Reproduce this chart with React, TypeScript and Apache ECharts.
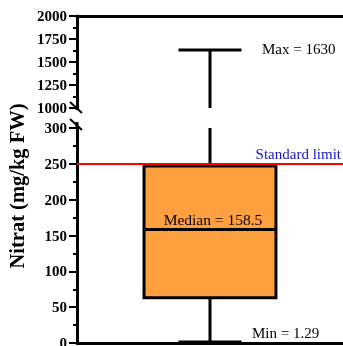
import React, { useEffect, useRef } from 'react';
import * as echarts from 'echarts';

const categories = ['Nitrat'];
const minValues = [1.29];
const q1Values = [63];
const medianValues = [158.5];
const q3Values = [247];
const maxValues = [1630];
const standardLimit = 250;
const upperRange = [1000, 2000];
const lowerRange = [0, 300];
const upperInterval = 250;
const lowerInterval = 50;
const yTitle = 'Nitrat (mg/kg FW)';
const limitLabel = 'Standard limit';

const FONT = '"Liberation Serif", "Times New Roman", serif';
const BOX_FILL = '#FFA040';

function makeRender() {
  return (params: any, api: any) => {
    const cs = params.coordSys;
    const top = cs.y;
    const bottom = cs.y + cs.height;
    const clamp = (y: number) => Math.max(top, Math.min(bottom, y));
    const inside = (y: number) => y >= top - 1.5 && y <= bottom + 1.5;
    const cat = api.value(0);
    const vMin = api.value(1);
    const vQ1 = api.value(2);
    const vMed = api.value(3);
    const vQ3 = api.value(4);
    const vMax = api.value(5);
    const [cx, yMin] = api.coord([cat, vMin]);
    const yQ1 = api.coord([cat, vQ1])[1];
    const yMed = api.coord([cat, vMed])[1];
    const yQ3 = api.coord([cat, vQ3])[1];
    const yMax = api.coord([cat, vMax])[1];
    const band = api.size([1, 0])[0];
    const boxW = band * 0.496;
    const capW = band * 0.237;
    const stroke = { stroke: '#000', lineWidth: 3 };
    const children: any[] = [];
    const wTop = clamp(yMax), wBot = clamp(yQ3);
    if (wBot - wTop > 0.5) {
      children.push({ type: 'line', shape: { x1: cx, y1: wTop, x2: cx, y2: wBot }, style: stroke });
    }
    const lTop = clamp(yQ1), lBot = clamp(yMin);
    if (lBot - lTop > 0.5) {
      children.push({ type: 'line', shape: { x1: cx, y1: lTop, x2: cx, y2: lBot }, style: stroke });
    }
    const bTop = clamp(yQ3), bBot = clamp(yQ1);
    if (bBot - bTop > 0.5) {
      children.push({
        type: 'rect',
        shape: { x: cx - boxW / 2, y: bTop, width: boxW, height: bBot - bTop },
        style: { fill: BOX_FILL, stroke: '#000', lineWidth: 3 },
      });
    }
    if (inside(yMed)) {
      children.push({ type: 'line', shape: { x1: cx - boxW / 2, y1: yMed, x2: cx + boxW / 2, y2: yMed }, style: stroke });
      children.push({
        type: 'text', x: cx + 3, y: yMed - 2,
        style: { text: `Median = ${vMed}`, fill: '#000', fontFamily: FONT, fontSize: 15.5, align: 'center', verticalAlign: 'bottom' },
      });
    }
    if (inside(yMax)) {
      children.push({ type: 'line', shape: { x1: cx - capW / 2, y1: yMax, x2: cx + capW / 2, y2: yMax }, style: stroke });
      children.push({
        type: 'text', x: cx + 52, y: yMax - 1,
        style: { text: `Max = ${vMax}`, fill: '#000', fontFamily: FONT, fontSize: 15, align: 'left', verticalAlign: 'middle' },
      });
    }
    if (inside(yMin)) {
      children.push({ type: 'line', shape: { x1: cx - capW / 2, y1: yMin, x2: cx + capW / 2, y2: yMin }, style: stroke });
      children.push({
        type: 'text', x: cx + 42, y: yMin - 9,
        style: { text: `Min = ${vMin}`, fill: '#000', fontFamily: FONT, fontSize: 15, align: 'left', verticalAlign: 'middle' },
      });
    }
    return { type: 'group', children };
  };
}

const boxData = categories.map((_, i) => [i, minValues[i], q1Values[i], medianValues[i], q3Values[i], maxValues[i]]);

function yAxisFor(gridIndex: number, range: number[], interval: number) {
  return {
    type: 'value',
    gridIndex,
    min: range[0],
    max: range[1],
    interval,
    axisLine: { show: true, lineStyle: { color: '#000', width: 3 } },
    axisTick: { show: true, length: 8, inside: false, lineStyle: { color: '#000', width: 2 } },
    minorTick: { show: true, splitNumber: 2, length: 4, lineStyle: { color: '#000', width: 2 } },
    splitLine: { show: false },
    axisLabel: {
      fontFamily: FONT, fontWeight: 'bold', fontSize: 15, color: '#000', margin: 10,
      formatter: (v: number) => String(v),
    },
  };
}

export default function App() {
  const ref = useRef<HTMLDivElement>(null);
  useEffect(() => {
    if (!ref.current) return;
    const chart = echarts.init(ref.current, undefined, { renderer: 'svg' });
    chart.setOption({
      animation: false,
      grid: [
        { left: 77, right: 0, top: 16, height: 92, outerBoundsMode: 'none', containLabel: false },
        { left: 77, right: 0, top: 128, height: 215, outerBoundsMode: 'none', containLabel: false },
      ],
      xAxis: [
        {
          type: 'category', gridIndex: 0, data: categories, position: 'top',
          axisLine: { show: true, onZero: false, lineStyle: { color: '#000', width: 3 } },
          axisTick: { show: false }, axisLabel: { show: false },
        },
        {
          type: 'category', gridIndex: 1, data: categories, position: 'bottom',
          axisLine: { show: true, onZero: false, lineStyle: { color: '#000', width: 3 } },
          axisTick: { show: false }, axisLabel: { show: false },
        },
      ],
      yAxis: [
        yAxisFor(0, upperRange, upperInterval),
        yAxisFor(1, lowerRange, lowerInterval),
      ],
      series: [
        {
          type: 'custom', xAxisIndex: 0, yAxisIndex: 0,
          data: boxData, encode: { x: 0, y: [1, 2, 3, 4, 5] },
          renderItem: makeRender(),
        },
        {
          type: 'custom', xAxisIndex: 1, yAxisIndex: 1,
          data: boxData, encode: { x: 0, y: [1, 2, 3, 4, 5] },
          renderItem: makeRender(),
          z: 3,
        },
        {
          type: 'line', xAxisIndex: 1, yAxisIndex: 1, data: [],
          z: 4,
          markLine: {
            silent: true, symbol: ['none', 'none'],
            lineStyle: { color: '#FF0000', width: 2, type: 'solid' },
            label: {
              show: true, position: 'insideEndTop', formatter: limitLabel,
              color: '#1515D0', fontFamily: FONT, fontSize: 15, distance: [2, 2],
            },
            data: [{ yAxis: standardLimit }],
          },
        },
      ],
      graphic: [
        { type: 'line', shape: { x1: 77, y1: 107, x2: 77, y2: 110 }, style: { stroke: '#000', lineWidth: 3 } },
        { type: 'line', shape: { x1: 77, y1: 122, x2: 77, y2: 129 }, style: { stroke: '#000', lineWidth: 3 } },
        { type: 'line', shape: { x1: 70, y1: 102, x2: 82, y2: 113 }, style: { stroke: '#000', lineWidth: 2 } },
        { type: 'line', shape: { x1: 70, y1: 119, x2: 82, y2: 130 }, style: { stroke: '#000', lineWidth: 2 } },
        {
          type: 'text', x: 17, y: 186, rotation: Math.PI / 2,
          style: { text: yTitle, fill: '#000', fontFamily: FONT, fontWeight: 'bold', fontSize: 20.5, align: 'center', verticalAlign: 'middle' },
        },
      ],
    });
    return () => chart.dispose();
  }, []);
  return <div ref={ref} style={{ position: 'fixed', left: 0, top: 0, width: 343, height: 346 }} />;
}
